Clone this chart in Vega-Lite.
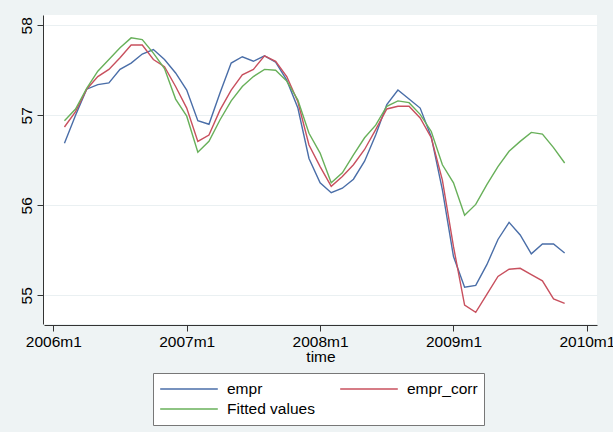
{
  "$schema": "https://vega.github.io/schema/vega-lite/v6.json",
  "autosize": {"type": "none"},
  "width": 553,
  "height": 309,
  "padding": {"left": 44, "top": 15, "right": 16, "bottom": 108},
  "background": "#eef3f4",
  "view": {"fill": "white", "stroke": null},
  "config": {"font": "Liberation Sans"},
  "data": {"values": [
    {"time": 553, "empr": 56.69, "empr_corr": 56.87, "Fitted values": 56.94},
    {"time": 554, "empr": 57.0, "empr_corr": 57.04, "Fitted values": 57.07},
    {"time": 555, "empr": 57.29, "empr_corr": 57.29, "Fitted values": 57.30},
    {"time": 556, "empr": 57.34, "empr_corr": 57.43, "Fitted values": 57.49},
    {"time": 557, "empr": 57.36, "empr_corr": 57.51, "Fitted values": 57.62},
    {"time": 558, "empr": 57.51, "empr_corr": 57.64, "Fitted values": 57.75},
    {"time": 559, "empr": 57.58, "empr_corr": 57.78, "Fitted values": 57.86},
    {"time": 560, "empr": 57.68, "empr_corr": 57.78, "Fitted values": 57.84},
    {"time": 561, "empr": 57.73, "empr_corr": 57.62, "Fitted values": 57.69},
    {"time": 562, "empr": 57.62, "empr_corr": 57.54, "Fitted values": 57.52},
    {"time": 563, "empr": 57.47, "empr_corr": 57.32, "Fitted values": 57.18},
    {"time": 564, "empr": 57.28, "empr_corr": 57.08, "Fitted values": 56.99},
    {"time": 565, "empr": 56.94, "empr_corr": 56.71, "Fitted values": 56.59},
    {"time": 566, "empr": 56.90, "empr_corr": 56.78, "Fitted values": 56.71},
    {"time": 567, "empr": 57.25, "empr_corr": 57.06, "Fitted values": 56.95},
    {"time": 568, "empr": 57.58, "empr_corr": 57.28, "Fitted values": 57.16},
    {"time": 569, "empr": 57.65, "empr_corr": 57.45, "Fitted values": 57.32},
    {"time": 570, "empr": 57.60, "empr_corr": 57.51, "Fitted values": 57.43},
    {"time": 571, "empr": 57.66, "empr_corr": 57.66, "Fitted values": 57.51},
    {"time": 572, "empr": 57.59, "empr_corr": 57.60, "Fitted values": 57.50},
    {"time": 573, "empr": 57.39, "empr_corr": 57.43, "Fitted values": 57.38},
    {"time": 574, "empr": 57.08, "empr_corr": 57.15, "Fitted values": 57.17},
    {"time": 575, "empr": 56.52, "empr_corr": 56.67, "Fitted values": 56.80},
    {"time": 576, "empr": 56.25, "empr_corr": 56.43, "Fitted values": 56.58},
    {"time": 577, "empr": 56.14, "empr_corr": 56.21, "Fitted values": 56.25},
    {"time": 578, "empr": 56.19, "empr_corr": 56.32, "Fitted values": 56.36},
    {"time": 579, "empr": 56.29, "empr_corr": 56.45, "Fitted values": 56.56},
    {"time": 580, "empr": 56.49, "empr_corr": 56.62, "Fitted values": 56.75},
    {"time": 581, "empr": 56.78, "empr_corr": 56.84, "Fitted values": 56.89},
    {"time": 582, "empr": 57.12, "empr_corr": 57.07, "Fitted values": 57.10},
    {"time": 583, "empr": 57.28, "empr_corr": 57.10, "Fitted values": 57.16},
    {"time": 584, "empr": 57.18, "empr_corr": 57.10, "Fitted values": 57.14},
    {"time": 585, "empr": 57.08, "empr_corr": 56.97, "Fitted values": 57.01},
    {"time": 586, "empr": 56.76, "empr_corr": 56.75, "Fitted values": 56.82},
    {"time": 587, "empr": 56.17, "empr_corr": 56.28, "Fitted values": 56.45},
    {"time": 588, "empr": 55.43, "empr_corr": 55.54, "Fitted values": 56.25},
    {"time": 589, "empr": 55.09, "empr_corr": 54.89, "Fitted values": 55.89},
    {"time": 590, "empr": 55.11, "empr_corr": 54.81, "Fitted values": 56.01},
    {"time": 591, "empr": 55.34, "empr_corr": 55.01, "Fitted values": 56.23},
    {"time": 592, "empr": 55.62, "empr_corr": 55.21, "Fitted values": 56.43},
    {"time": 593, "empr": 55.81, "empr_corr": 55.29, "Fitted values": 56.60},
    {"time": 594, "empr": 55.67, "empr_corr": 55.30, "Fitted values": 56.71},
    {"time": 595, "empr": 55.46, "empr_corr": 55.23, "Fitted values": 56.81},
    {"time": 596, "empr": 55.57, "empr_corr": 55.16, "Fitted values": 56.79},
    {"time": 597, "empr": 55.57, "empr_corr": 54.96, "Fitted values": 56.64},
    {"time": 598, "empr": 55.47, "empr_corr": 54.91, "Fitted values": 56.47}
  ]},
  "transform": [{"fold": ["empr", "empr_corr", "Fitted values"], "as": ["series", "value"]}],
  "mark": {"type": "line", "strokeWidth": 1.4, "clip": true},
  "encoding": {
    "x": {
      "field": "time", "type": "quantitative",
      "scale": {"domain": [551.16, 600.91], "nice": false, "zero": false},
      "axis": {
        "title": "time", "titleFontSize": 15.5, "titleFontWeight": "normal", "titleColor": "black", "titlePadding": 0,
        "values": [552, 564, 576, 588, 600],
        "labelExpr": "(floor(datum.value/12)+1960) + 'm' + (datum.value % 12 + 1)",
        "labelFontSize": 15.5, "labelColor": "black", "labelPadding": 3, "labelFlush": false,
        "grid": false, "domainColor": "#333", "tickColor": "#333", "tickSize": 6,
        "offset": 1
      }
    },
    "y": {
      "field": "value", "type": "quantitative",
      "scale": {"domain": [54.681, 58.114], "nice": false, "zero": false},
      "axis": {
        "title": null,
        "values": [55, 56, 57, 58],
        "labelAngle": 270, "labelAlign": "center", "labelBaseline": "bottom",
        "labelFontSize": 15.5, "labelColor": "black", "labelPadding": 3,
        "grid": true, "gridColor": "#eaf0f2", "gridWidth": 1.2,
        "domainColor": "#333", "tickColor": "#333", "tickSize": 6,
        "offset": 1
      }
    },
    "color": {
      "field": "series", "type": "nominal",
      "scale": {"domain": ["empr", "empr_corr", "Fitted values"], "range": ["#4a6ea8", "#c8505e", "#68b05a"]},
      "legend": {
        "title": null, "orient": "none", "legendX": 109, "legendY": 358,
        "direction": "horizontal", "columns": 2, "columnPadding": 24, "rowPadding": 0,
        "clipHeight": 20, "symbolType": "stroke", "symbolSize": 3318, "symbolStrokeWidth": 1.4,
        "labelOffset": 8, "labelFontSize": 15.5, "labelColor": "black",
        "fillColor": "white", "strokeColor": "#777", "padding": 6
      }
    }
  }
}
